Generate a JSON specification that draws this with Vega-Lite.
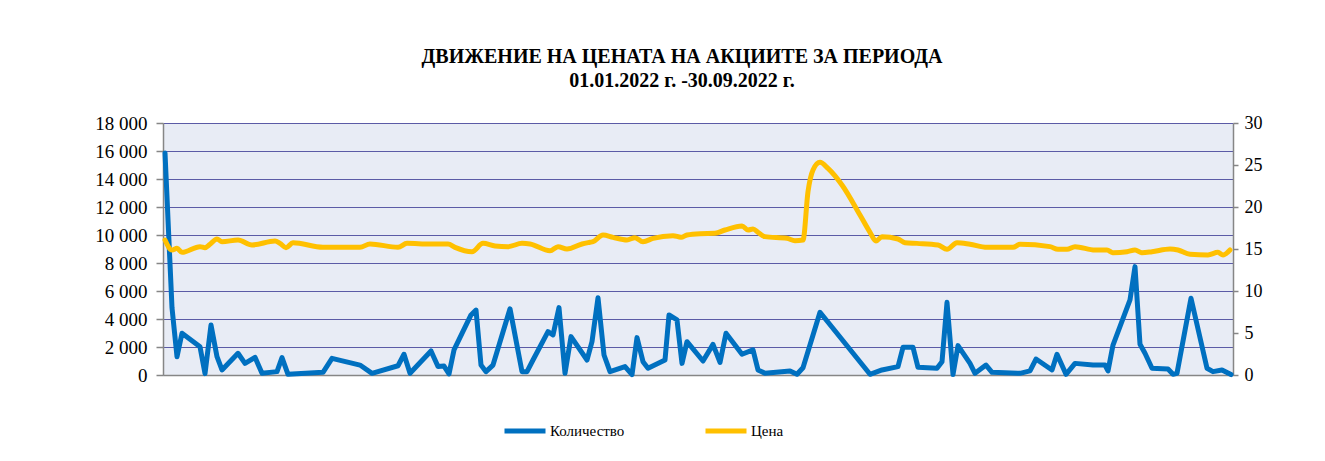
{
  "$schema": "https://vega.github.io/schema/vega-lite/v6.json",
  "width": 1070,
  "height": 252,
  "autosize": {"type": "none"},
  "padding": {"left": 163, "top": 123, "right": 92, "bottom": 86},
  "background": "white",
  "title": {
    "text": ["ДВИЖЕНИЕ НА ЦЕНАТА НА АКЦИИТЕ ЗА ПЕРИОДА", "01.01.2022 г. -30.09.2022 г."],
    "font": "Liberation Serif",
    "fontSize": 20,
    "fontWeight": "bold",
    "color": "black",
    "anchor": "middle",
    "dx": -16,
    "lineHeight": 24,
    "offset": 23
  },
  "datasets": {
    "qty": [
      {"t": 0, "series": "Количество", "v": 15860},
      {"t": 7, "series": "Количество", "v": 4800},
      {"t": 12, "series": "Количество", "v": 1300},
      {"t": 17, "series": "Количество", "v": 2980},
      {"t": 35, "series": "Количество", "v": 2020},
      {"t": 40, "series": "Количество", "v": 100},
      {"t": 46, "series": "Количество", "v": 3570},
      {"t": 52, "series": "Количество", "v": 1310},
      {"t": 57, "series": "Количество", "v": 360},
      {"t": 73, "series": "Количество", "v": 1550},
      {"t": 80, "series": "Количество", "v": 830},
      {"t": 90, "series": "Количество", "v": 1260},
      {"t": 97, "series": "Количество", "v": 120},
      {"t": 112, "series": "Количество", "v": 240},
      {"t": 117, "series": "Количество", "v": 1240},
      {"t": 123, "series": "Количество", "v": 50},
      {"t": 158, "series": "Количество", "v": 190},
      {"t": 167, "series": "Количество", "v": 1190},
      {"t": 195, "series": "Количество", "v": 710},
      {"t": 207, "series": "Количество", "v": 120},
      {"t": 233, "series": "Количество", "v": 660},
      {"t": 239, "series": "Количество", "v": 1480},
      {"t": 245, "series": "Количество", "v": 120},
      {"t": 266, "series": "Количество", "v": 1720},
      {"t": 273, "series": "Количество", "v": 600},
      {"t": 279, "series": "Количество", "v": 640},
      {"t": 284, "series": "Количество", "v": 80},
      {"t": 289, "series": "Количество", "v": 1790},
      {"t": 306, "series": "Количество", "v": 4290},
      {"t": 311, "series": "Количество", "v": 4640},
      {"t": 316, "series": "Количество", "v": 710},
      {"t": 321, "series": "Количество", "v": 240},
      {"t": 328, "series": "Количество", "v": 710},
      {"t": 345, "series": "Количество", "v": 4730},
      {"t": 357, "series": "Количество", "v": 240},
      {"t": 362, "series": "Количество", "v": 240},
      {"t": 368, "series": "Количество", "v": 1070},
      {"t": 383, "series": "Количество", "v": 3100},
      {"t": 388, "series": "Количество", "v": 2860},
      {"t": 394, "series": "Количество", "v": 4810},
      {"t": 400, "series": "Количество", "v": 120},
      {"t": 406, "series": "Количество", "v": 2740},
      {"t": 422, "series": "Количество", "v": 1070},
      {"t": 427, "series": "Количество", "v": 2380},
      {"t": 433, "series": "Количество", "v": 5520},
      {"t": 439, "series": "Количество", "v": 1430},
      {"t": 445, "series": "Количество", "v": 240},
      {"t": 460, "series": "Количество", "v": 600},
      {"t": 467, "series": "Количество", "v": 30},
      {"t": 472, "series": "Количество", "v": 2670},
      {"t": 478, "series": "Количество", "v": 950},
      {"t": 483, "series": "Количество", "v": 480},
      {"t": 500, "series": "Количество", "v": 1070},
      {"t": 504, "series": "Количество", "v": 4290},
      {"t": 512, "series": "Количество", "v": 3930},
      {"t": 517, "series": "Количество", "v": 830},
      {"t": 522, "series": "Количество", "v": 2380},
      {"t": 538, "series": "Количество", "v": 1000},
      {"t": 548, "series": "Количество", "v": 2190},
      {"t": 555, "series": "Количество", "v": 900},
      {"t": 561, "series": "Количество", "v": 2980},
      {"t": 577, "series": "Количество", "v": 1480},
      {"t": 588, "series": "Количество", "v": 1790},
      {"t": 593, "series": "Количество", "v": 360},
      {"t": 600, "series": "Количество", "v": 120},
      {"t": 625, "series": "Количество", "v": 290},
      {"t": 632, "series": "Количество", "v": 50},
      {"t": 638, "series": "Количество", "v": 520},
      {"t": 655, "series": "Количество", "v": 4480},
      {"t": 705, "series": "Количество", "v": 50},
      {"t": 717, "series": "Количество", "v": 360},
      {"t": 733, "series": "Количество", "v": 600},
      {"t": 738, "series": "Количество", "v": 1980},
      {"t": 748, "series": "Количество", "v": 1980},
      {"t": 753, "series": "Количество", "v": 550},
      {"t": 772, "series": "Количество", "v": 480},
      {"t": 777, "series": "Количество", "v": 950},
      {"t": 782, "series": "Количество", "v": 5190},
      {"t": 788, "series": "Количество", "v": 30},
      {"t": 793, "series": "Количество", "v": 2100},
      {"t": 805, "series": "Количество", "v": 830},
      {"t": 810, "series": "Количество", "v": 120},
      {"t": 821, "series": "Количество", "v": 710},
      {"t": 827, "series": "Количество", "v": 190},
      {"t": 855, "series": "Количество", "v": 120},
      {"t": 865, "series": "Количество", "v": 290},
      {"t": 871, "series": "Количество", "v": 1140},
      {"t": 887, "series": "Количество", "v": 360},
      {"t": 892, "series": "Количество", "v": 1480},
      {"t": 901, "series": "Количество", "v": 50},
      {"t": 910, "series": "Количество", "v": 830},
      {"t": 928, "series": "Количество", "v": 710},
      {"t": 940, "series": "Количество", "v": 710},
      {"t": 943, "series": "Количество", "v": 290},
      {"t": 948, "series": "Количество", "v": 2140},
      {"t": 965, "series": "Количество", "v": 5360},
      {"t": 970, "series": "Количество", "v": 7740},
      {"t": 975, "series": "Количество", "v": 2190},
      {"t": 980, "series": "Количество", "v": 1550},
      {"t": 987, "series": "Количество", "v": 480},
      {"t": 1003, "series": "Количество", "v": 430},
      {"t": 1008, "series": "Количество", "v": 50},
      {"t": 1012, "series": "Количество", "v": 120},
      {"t": 1026, "series": "Количество", "v": 5480},
      {"t": 1042, "series": "Количество", "v": 480},
      {"t": 1048, "series": "Количество", "v": 240},
      {"t": 1057, "series": "Количество", "v": 360},
      {"t": 1066, "series": "Количество", "v": 30}
    ],
    "price": [
      {"t": 0, "series": "Цена", "v": 16.07},
      {"t": 7, "series": "Цена", "v": 14.88},
      {"t": 12, "series": "Цена", "v": 15.08},
      {"t": 17, "series": "Цена", "v": 14.6},
      {"t": 35, "series": "Цена", "v": 15.28},
      {"t": 40, "series": "Цена", "v": 15.16},
      {"t": 45, "series": "Цена", "v": 15.56},
      {"t": 52, "series": "Цена", "v": 16.19},
      {"t": 57, "series": "Цена", "v": 15.87},
      {"t": 73, "series": "Цена", "v": 16.07},
      {"t": 87, "series": "Цена", "v": 15.48},
      {"t": 110, "series": "Цена", "v": 15.95},
      {"t": 115, "series": "Цена", "v": 15.67},
      {"t": 121, "series": "Цена", "v": 15.16},
      {"t": 128, "series": "Цена", "v": 15.75},
      {"t": 158, "series": "Цена", "v": 15.2},
      {"t": 195, "series": "Цена", "v": 15.2},
      {"t": 205, "series": "Цена", "v": 15.6},
      {"t": 233, "series": "Цена", "v": 15.2},
      {"t": 242, "series": "Цена", "v": 15.67},
      {"t": 265, "series": "Цена", "v": 15.6},
      {"t": 283, "series": "Цена", "v": 15.6},
      {"t": 290, "series": "Цена", "v": 15.2},
      {"t": 307, "series": "Цена", "v": 14.68},
      {"t": 318, "series": "Цена", "v": 15.67},
      {"t": 330, "series": "Цена", "v": 15.36},
      {"t": 343, "series": "Цена", "v": 15.28},
      {"t": 357, "series": "Цена", "v": 15.67},
      {"t": 365, "series": "Цена", "v": 15.6},
      {"t": 385, "series": "Цена", "v": 14.8},
      {"t": 393, "series": "Цена", "v": 15.28},
      {"t": 402, "series": "Цена", "v": 15.0},
      {"t": 417, "series": "Цена", "v": 15.6},
      {"t": 425, "series": "Цена", "v": 15.8},
      {"t": 428, "series": "Цена", "v": 15.87},
      {"t": 438, "series": "Цена", "v": 16.67},
      {"t": 448, "series": "Цена", "v": 16.39},
      {"t": 462, "series": "Цена", "v": 16.07},
      {"t": 470, "series": "Цена", "v": 16.35},
      {"t": 478, "series": "Цена", "v": 15.87},
      {"t": 488, "series": "Цена", "v": 16.27},
      {"t": 508, "series": "Цена", "v": 16.59},
      {"t": 516, "series": "Цена", "v": 16.39},
      {"t": 522, "series": "Цена", "v": 16.67},
      {"t": 535, "series": "Цена", "v": 16.83},
      {"t": 550, "series": "Цена", "v": 16.87},
      {"t": 560, "series": "Цена", "v": 17.26},
      {"t": 577, "series": "Цена", "v": 17.74},
      {"t": 583, "series": "Цена", "v": 17.26},
      {"t": 588, "series": "Цена", "v": 17.38},
      {"t": 593, "series": "Цена", "v": 16.99},
      {"t": 600, "series": "Цена", "v": 16.47},
      {"t": 622, "series": "Цена", "v": 16.27},
      {"t": 630, "series": "Цена", "v": 15.99},
      {"t": 638, "series": "Цена", "v": 16.07},
      {"t": 643, "series": "Цена", "v": 21.82},
      {"t": 648, "series": "Цена", "v": 24.4},
      {"t": 655, "series": "Цена", "v": 25.32},
      {"t": 663, "series": "Цена", "v": 24.6},
      {"t": 677, "series": "Цена", "v": 22.62},
      {"t": 695, "series": "Цена", "v": 19.05},
      {"t": 705, "series": "Цена", "v": 16.99},
      {"t": 711, "series": "Цена", "v": 15.95},
      {"t": 717, "series": "Цена", "v": 16.47},
      {"t": 733, "series": "Цена", "v": 16.19},
      {"t": 740, "series": "Цена", "v": 15.75},
      {"t": 752, "series": "Цена", "v": 15.67},
      {"t": 773, "series": "Цена", "v": 15.48},
      {"t": 782, "series": "Цена", "v": 14.96},
      {"t": 792, "series": "Цена", "v": 15.75},
      {"t": 805, "series": "Цена", "v": 15.56},
      {"t": 822, "series": "Цена", "v": 15.2},
      {"t": 848, "series": "Цена", "v": 15.2},
      {"t": 855, "series": "Цена", "v": 15.56},
      {"t": 885, "series": "Цена", "v": 15.28},
      {"t": 893, "series": "Цена", "v": 14.96},
      {"t": 902, "series": "Цена", "v": 14.96},
      {"t": 910, "series": "Цена", "v": 15.28},
      {"t": 930, "series": "Цена", "v": 14.88},
      {"t": 942, "series": "Цена", "v": 14.88},
      {"t": 948, "series": "Цена", "v": 14.56},
      {"t": 962, "series": "Цена", "v": 14.68},
      {"t": 970, "series": "Цена", "v": 14.88},
      {"t": 977, "series": "Цена", "v": 14.56},
      {"t": 987, "series": "Цена", "v": 14.68},
      {"t": 1005, "series": "Цена", "v": 15.0},
      {"t": 1013, "series": "Цена", "v": 14.88},
      {"t": 1025, "series": "Цена", "v": 14.37},
      {"t": 1043, "series": "Цена", "v": 14.29},
      {"t": 1053, "series": "Цена", "v": 14.6},
      {"t": 1058, "series": "Цена", "v": 14.29},
      {"t": 1065, "series": "Цена", "v": 14.88}
    ]
  },
  "encoding": {
    "x": {
      "field": "t",
      "type": "quantitative",
      "scale": {"domain": [-2, 1068], "nice": false, "zero": false},
      "axis": {"title": null, "labels": false, "ticks": false, "grid": false, "domainColor": "#868686", "domainWidth": 1.5}
    },
    "color": {
      "field": "series",
      "type": "nominal",
      "scale": {"domain": ["Количество", "Цена"], "range": ["#0070C0", "#FFC000"]},
      "legend": {
        "title": null,
        "orient": "none",
        "legendX": 339,
        "legendY": 285,
        "direction": "horizontal",
        "symbolType": "stroke",
        "symbolSize": 1681,
        "symbolStrokeWidth": 5,
        "labelFont": "Liberation Serif",
        "labelFontSize": 15,
        "labelColor": "black",
        "labelOffset": 2,
        "columnPadding": 70,
        "padding": 0
      }
    }
  },
  "layer": [
    {
      "data": {"name": "qty"},
      "mark": {"type": "line", "strokeWidth": 5, "strokeJoin": "round", "strokeCap": "round"},
      "encoding": {
        "y": {
          "field": "v",
          "type": "quantitative",
          "scale": {"domain": [0, 18000], "nice": false},
          "axis": {
            "title": null,
            "orient": "left",
            "values": [0, 2000, 4000, 6000, 8000, 10000, 12000, 14000, 16000, 18000],
            "labelExpr": "replace(format(datum.value, ','), regexp(',', 'g'), ' ')",
            "grid": true,
            "gridColor": "#5B5BA6",
            "gridWidth": 1,
            "gridOpacity": 1,
            "domainColor": "#868686",
            "domainWidth": 1.5,
            "tickColor": "#868686",
            "tickSize": 7,
            "tickWidth": 1.5,
            "labelPadding": 9,
            "labelFont": "Liberation Serif",
            "labelFontSize": 19,
            "labelColor": "black"
          }
        }
      }
    },
    {
      "data": {"name": "price"},
      "mark": {"type": "line", "strokeWidth": 5, "strokeJoin": "round", "strokeCap": "round", "interpolate": "monotone"},
      "encoding": {
        "y": {
          "field": "v",
          "type": "quantitative",
          "scale": {"domain": [0, 30], "nice": false},
          "axis": {
            "title": null,
            "orient": "right",
            "values": [0, 5, 10, 15, 20, 25, 30],
            "grid": false,
            "domainColor": "#868686",
            "domainWidth": 1.5,
            "tickColor": "#868686",
            "tickSize": 5,
            "tickWidth": 1.5,
            "labelPadding": 6,
            "labelFont": "Liberation Serif",
            "labelFontSize": 18,
            "labelColor": "black"
          }
        }
      }
    }
  ],
  "resolve": {"scale": {"y": "independent"}},
  "config": {
    "view": {"fill": "#E8ECF5", "stroke": null},
    "font": "Liberation Serif"
  }
}
